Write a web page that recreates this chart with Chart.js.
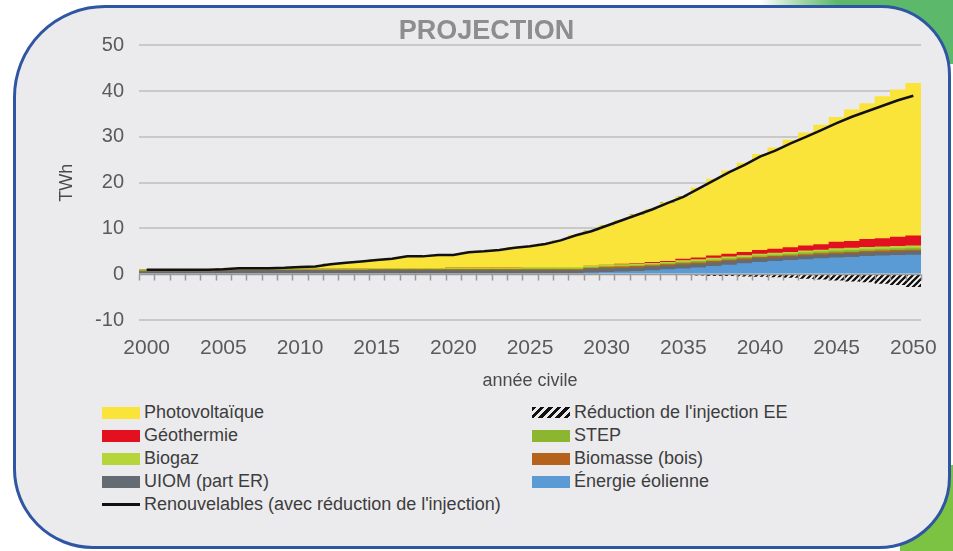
<!DOCTYPE html>
<html>
<head>
<meta charset="utf-8">
<script src="https://cdn.jsdelivr.net/npm/chart.js@4.4.1/dist/chart.umd.min.js"></script>
<style>
  html, body { margin: 0; padding: 0; background: #fff; width: 953px; height: 551px; overflow: hidden;
    font-family: "Liberation Sans", Arial, sans-serif; }
  #greenTop { position: absolute; left: 760px; top: 0; width: 193px; height: 64px;
    background: linear-gradient(90deg, rgba(255,255,255,0) 0%, rgba(120,195,125,.7) 22%, #5cb96b 40%, #5cb96b 100%); }
  #greenBottom { position: absolute; left: 900px; top: 465px; width: 53px; height: 86px; background: #7cc243; }
  #frame { position: absolute; left: 13px; top: 5px; width: 938px; height: 544px; box-sizing: border-box;
    border: 3px solid #2f56a3; border-radius: 92px 70px 72px 80px; background: #ebebed; }
  #chartBox { position: absolute; left: 0; top: 0; width: 953px; height: 400px; }
  .legend { position: absolute; top: 401px; font-size: 18px; color: #3d3d3d; }
  .row { height: 23px; line-height: 23px; white-space: nowrap; display: flex; align-items: center; }
  .sw { width: 38px; height: 12px; margin-right: 4px; flex: none; }
  .ln { width: 38px; height: 3px; margin-right: 4px; flex: none; background: #111; }
  .hatch { width: 38px; height: 11px; margin-right: 4px; flex: none;
    background: repeating-linear-gradient(135deg, #111 0 3px, transparent 3px 6px); }
</style>
</head>
<body>
<div id="greenTop"></div>
<div id="greenBottom"></div>
<div id="frame"></div>
<div id="chartBox"><canvas id="c" width="953" height="400"></canvas></div>

<div class="legend" style="left:102px">
  <div class="row"><span class="sw" style="background:#fbe43a"></span>Photovoltaïque</div>
  <div class="row"><span class="sw" style="background:#e3101f"></span>Géothermie</div>
  <div class="row"><span class="sw" style="background:#b6d53a"></span>Biogaz</div>
  <div class="row"><span class="sw" style="background:#646b72"></span>UIOM (part ER)</div>
  <div class="row"><span class="ln"></span>Renouvelables (avec réduction de l'injection)</div>
</div>
<div class="legend" style="left:532px">
  <div class="row"><span class="hatch"></span>Réduction de l'injection EE</div>
  <div class="row"><span class="sw" style="background:#8cb62f"></span>STEP</div>
  <div class="row"><span class="sw" style="background:#b5621c"></span>Biomasse (bois)</div>
  <div class="row"><span class="sw" style="background:#5b9bd5"></span>Énergie éolienne</div>
</div>

<script>
const years = ['2000','2001','2002','2003','2004','2005','2006','2007','2008','2009',
  '2010','2011','2012','2013','2014','2015','2016','2017','2018','2019',
  '2020','2021','2022','2023','2024','2025','2026','2027','2028','2029',
  '2030','2031','2032','2033','2034','2035','2036','2037','2038','2039',
  '2040','2041','2042','2043','2044','2045','2046','2047','2048','2049','2050'];
const yearLabels = ['2000','2005','2010','2015','2020','2025','2030','2035','2040','2045','2050'];

// TWh par année
const eolien = [0,0,0,0,0,0,0,0,0,0, 0,0,0,0,0,0,0,0,0,0, 0,0,0,0,0,0,0,0,0,0.3,
  0.4,0.5,0.6,0.8,1.0,1.2,1.4,1.7,2.0,2.3, 2.6,2.8,3.0,3.2,3.4,3.6,3.7,3.9,4.0,4.1,4.2];
const uiom = [0.6,0.6,0.6,0.6,0.6,0.7,0.8,0.8,0.8,0.8, 0.8,0.8,0.8,0.8,0.8,0.8,0.8,0.8,0.8,0.8,
  0.8,0.8,0.8,0.8,0.8,0.8,0.8,0.8,0.8,0.8, 0.8,0.8,0.8,0.8,0.8,0.8,0.8,0.8,0.8,0.8,
  0.8,0.8,0.8,0.8,0.8,0.8,0.8,0.8,0.8,0.8,0.8];
const biomasse = [0.1,0.1,0.1,0.1,0.1,0.1,0.1,0.1,0.1,0.1, 0.1,0.1,0.1,0.1,0.1,0.2,0.2,0.2,0.2,0.2,
  0.2,0.2,0.2,0.2,0.2,0.2,0.2,0.2,0.2,0.2, 0.3,0.3,0.3,0.3,0.3,0.3,0.3,0.3,0.3,0.3,
  0.3,0.3,0.3,0.3,0.3,0.3,0.3,0.3,0.3,0.3,0.3];
const step = [0.1,0.1,0.1,0.1,0.1,0.1,0.1,0.1,0.1,0.1, 0.1,0.1,0.1,0.1,0.1,0.1,0.1,0.1,0.1,0.1,
  0.1,0.1,0.1,0.1,0.1,0.2,0.2,0.2,0.2,0.2, 0.2,0.2,0.2,0.2,0.2,0.3,0.3,0.3,0.3,0.3,
  0.3,0.3,0.3,0.4,0.4,0.4,0.4,0.4,0.4,0.4,0.4];
const biogaz = [0.2,0.2,0.2,0.2,0.2,0.2,0.2,0.2,0.2,0.2, 0.2,0.2,0.2,0.2,0.2,0.2,0.2,0.2,0.2,0.2,
  0.3,0.3,0.3,0.3,0.3,0.3,0.3,0.3,0.3,0.3, 0.3,0.3,0.3,0.3,0.3,0.4,0.4,0.4,0.4,0.4,
  0.4,0.4,0.4,0.4,0.4,0.5,0.5,0.5,0.5,0.5,0.5];
const geothermie = [0,0,0,0,0,0,0,0,0,0, 0,0,0,0,0,0,0,0,0,0, 0,0,0,0,0,0,0,0,0,0,
  0,0.1,0.1,0.2,0.2,0.3,0.4,0.5,0.6,0.7, 0.8,0.9,1.0,1.1,1.2,1.4,1.5,1.7,1.8,2.0,2.2];
const photovoltaique = [0,0,0,0,0,0,0.1,0.1,0.1,0.2, 0.4,0.5,1.0,1.3,1.6,1.8,2.1,2.6,2.6,2.9,
  2.8,3.4,3.6,3.9,4.4,4.6,5.1,5.9,7.0,7.6, 8.6,9.6,10.7,11.6,12.8,13.6,15.3,16.8,18.2,19.5,
  21.0,22.1,23.5,24.7,26.1,27.3,28.7,29.7,31.0,32.2,33.3];
const reduction = [0,0,0,0,0,0,0,0,0,0, 0,0,0,0,0,0,0,0,0,0, 0,0,0,0,0,0,0,0,0,0,
  0,0,0,0,0,0,-0.2,-0.3,-0.3,-0.4, -0.5,-0.6,-0.7,-0.9,-1.1,-1.3,-1.5,-1.7,-2.0,-2.3,-2.7];
const renouvelables = [1.0,1.0,1.0,1.0,1.0,1.1,1.3,1.3,1.3,1.4, 1.6,1.7,2.2,2.5,2.8,3.1,3.4,3.9,3.9,4.2,
  4.2,4.8,5.0,5.3,5.8,6.1,6.6,7.4,8.5,9.4, 10.6,11.8,13.0,14.2,15.6,16.9,18.7,20.5,22.3,23.9,
  25.7,27.0,28.6,30.0,31.5,33.0,34.4,35.6,36.8,38.0,39.0];

const yMin = -10, yMax = 50, yStep = 10;

function hatchPattern() {
  const c = document.createElement('canvas');
  c.width = c.height = 6;
  const g = c.getContext('2d');
  g.fillStyle = '#fff';
  g.fillRect(0, 0, 6, 6);
  g.strokeStyle = '#111';
  g.lineWidth = 2.3;
  g.beginPath();
  g.moveTo(-1, 7); g.lineTo(7, -1);
  g.moveTo(-4, 4); g.lineTo(4, -4);
  g.moveTo(2, 10); g.lineTo(10, 2);
  g.stroke();
  return g.createPattern(c, 'repeat');
}

// zero line with small tick marks between the years
const zeroAxis = {
  id: 'zeroAxis',
  afterDatasetsDraw(chart) {
    const {ctx, chartArea, scales: {x, y}} = chart;
    const y0 = Math.round(y.getPixelForValue(0)) + 0.5;
    const half = (x.getPixelForValue(1) - x.getPixelForValue(0)) / 2;
    ctx.save();
    ctx.strokeStyle = '#9a9a9a';
    ctx.lineWidth = 1.5;
    ctx.beginPath();
    ctx.moveTo(chartArea.left, y0);
    ctx.lineTo(chartArea.right, y0);
    for (let i = 0; i <= years.length; i++) {
      const px = Math.round(x.getPixelForValue(0) - half + i * 2 * half) + 0.5;
      ctx.moveTo(px, y0);
      ctx.lineTo(px, y0 + 6);
    }
    ctx.stroke();
    ctx.restore();
  }
};

function bar(label, data, color) {
  return { label, data, backgroundColor: color, borderWidth: 0, stack: 'mix', order: 1,
    barPercentage: 1, categoryPercentage: 1 };
}

Chart.defaults.font.family = '"Liberation Sans", Arial, sans-serif';

new Chart(document.getElementById('c'), {
  type: 'bar',
  data: {
    labels: years,
    datasets: [
      bar('Énergie éolienne', eolien, '#5b9bd5'),
      bar('UIOM (part ER)', uiom, '#646b72'),
      bar('Biomasse (bois)', biomasse, '#b5621c'),
      bar('STEP', step, '#8cb62f'),
      bar('Biogaz', biogaz, '#b6d53a'),
      bar('Géothermie', geothermie, '#e3101f'),
      bar('Photovoltaïque', photovoltaique, '#fbe43a'),
      bar("Réduction de l'injection EE", reduction, hatchPattern()),
      { type: 'line', label: "Renouvelables (avec réduction de l'injection)", data: renouvelables,
        stack: 'line', order: 0, borderColor: '#111', borderWidth: 2.5, pointRadius: 0, tension: 0, fill: false }
    ]
  },
  options: {
    responsive: false,
    animation: false,
    layout: { padding: { left: 52, right: 32, top: 0, bottom: 0 } },
    plugins: {
      legend: { display: false },
      tooltip: { enabled: false },
      title: { display: true, text: 'PROJECTION', color: '#8d8d8d',
        font: { size: 27, weight: 'bold', lineHeight: 1.05 }, padding: { top: 17, bottom: 0 } }
    },
    scales: {
      x: {
        stacked: true,
        grid: { display: false },
        border: { display: false },
        ticks: { autoSkip: false, maxRotation: 0, padding: 8, color: '#5a5a5a', font: { size: 21 },
          callback: (v, i) => yearLabels.includes(years[i]) ? years[i] : '' },
        title: { display: true, text: 'année civile', color: '#4a4a4a', font: { size: 18 },
          padding: { top: 0, bottom: 8 } },
        afterFit: s => { s.height = 80; }
      },
      y: {
        stacked: true,
        min: yMin, max: yMax,
        ticks: { stepSize: yStep, padding: 15, color: '#5a5a5a', font: { size: 20 } },
        grid: { drawTicks: false, lineWidth: 2,
          color: ctx => ctx.tick && ctx.tick.value === 0 ? 'rgba(0,0,0,0)' : '#c9c9c9' },
        border: { display: false },
        title: { display: true, text: 'TWh', color: '#4a4a4a', font: { size: 18 },
          padding: { top: 4, bottom: 4 } },
        afterFit: s => { s.width = 87; }
      }
    }
  },
  plugins: [zeroAxis]
});
</script>
</body>
</html>
